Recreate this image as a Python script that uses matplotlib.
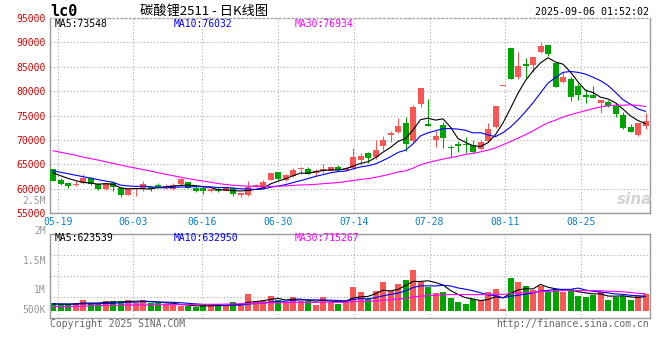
import numpy as np
import pandas as pd
import matplotlib
matplotlib.use("Agg")
import matplotlib.pyplot as plt

# ---------------- data ----------------
opens = [64000, 61890, 61270, 60870, 61210, 62230, 61070, 59910, 61210, 60180,
         58680, 60000, 60180, 60460, 60870, 60120, 60000, 60930, 61480, 60250,
         60250, 59640, 60050, 59640, 60120, 58680, 58750, 60500, 60250, 61820,
         63390, 61820, 62640, 64000, 64090, 63200, 63740, 63740, 64560, 63940,
         64220, 65920, 67350, 66530, 68850, 71100, 71720, 73520, 69700, 77440,
         73250, 70050, 73090, 68590, 69130, 69270, 69000, 68180, 69820, 72680,
         81000, 88780, 82840, 85570, 85360, 87960, 89460, 85840, 81950, 82430,
         81060, 79290, 79220, 77650, 77860, 76970, 75130, 72740, 71040, 72890]
highs = [64100, 62230, 61270, 61550, 63050, 62370, 61270, 61270, 61270, 60320,
         60050, 60250, 61680, 60590, 61280, 61080, 61300, 62160, 61480, 60800,
         60600, 60050, 60460, 60250, 60460, 59230, 61690, 60900, 61820, 63250,
         63520, 62980, 64300, 64550, 64550, 64000, 65000, 64560, 64900, 64550,
         68450, 67400, 67630, 70010, 70870, 71900, 74580, 74790, 77200, 80590,
         78470, 71800, 73640, 69000, 69800, 70630, 69950, 69950, 73570, 77050,
         81000, 88780, 87960, 86730, 86930, 90140, 89460, 85900, 83930, 82970,
         81610, 80380, 81060, 78200, 78200, 77520, 75810, 73280, 73430, 75620]
lows = [61700, 60870, 60180, 60530, 61000, 60730, 59770, 59700, 59500, 58270,
        58680, 58500, 59500, 59640, 60120, 59980, 59800, 60800, 60120, 59300,
        58880, 59430, 59430, 59500, 58540, 58270, 58610, 60400, 60120, 61820,
        61820, 61610, 62500, 63050, 63050, 62640, 63200, 63700, 63870, 63700,
        64080, 64900, 65380, 66150, 67970, 69680, 71440, 67830, 69330, 76660,
        72900, 68470, 68320, 66540, 67500, 67430, 67360, 67970, 69680, 72540,
        81000, 82430, 82430, 82770, 84000, 87750, 87280, 80930, 81610, 78060,
        78200, 77650, 78680, 75610, 76840, 74790, 72190, 71720, 70830, 72340]
closes = [61700, 61070, 60660, 61000, 62230, 61000, 59910, 61140, 60390, 58680,
          59910, 60200, 61070, 59980, 60250, 60590, 60850, 61960, 60250, 59640,
          59640, 59910, 59640, 60180, 58890, 59230, 60460, 60750, 61410, 63250,
          62030, 62840, 63870, 64150, 63060, 63740, 64010, 64560, 63870, 64350,
          66500, 66770, 66260, 68030, 70010, 71380, 72880, 69220, 76760, 80590,
          72950, 70860, 70500, 68320, 68860, 69000, 67500, 69680, 72270, 77050,
          81000, 82430, 85160, 85230, 86930, 89250, 87550, 80930, 82970, 78880,
          79220, 78880, 78680, 78200, 77040, 75330, 72400, 71720, 73430, 73840]
volumes = [329000, 286000, 286000, 329000, 472000, 329000, 286000, 429000, 429000, 429000,
           472000, 329000, 472000, 329000, 329000, 286000, 243000, 214000, 214000, 157000,
           243000, 286000, 286000, 214000, 386000, 243000, 729000, 429000, 429000, 643000,
           472000, 386000, 600000, 429000, 429000, 257000, 600000, 400000, 300000, 472000,
           1029000, 829000, 500000, 872000, 1243000, 857000, 1157000, 1329000, 1758000, 1229000,
           1015000, 772000, 815000, 572000, 386000, 300000, 500000, 472000, 815000, 943000,
           100000, 1415000, 1243000, 1072000, 900000, 1072000, 815000, 900000, 815000, 943000,
           650000, 580000, 690000, 810000, 480000, 620000, 660000, 460000, 660000, 720000]

# moving-average values for the first bars (their windows start before the chart)
ma5_head = [63300, 62700, 62150, 61700]
ma10_head = [63700, 63400, 63100, 62800, 62500, 62200, 61900, 61600, 61350]
ma30_head = [67800, 67500, 67200, 66900, 66500, 66200, 65900, 65550, 65200, 64900,
             64550, 64250, 63950, 63650, 63300, 63000, 62700, 62400, 62100, 61850,
             61600, 61350, 61100, 60900, 60750, 60650, 60550, 60500, 60500]
vma5_head = [300000, 300000, 290000, 300000]
vma10_head = [300000, 300000, 300000, 300000, 305000, 310000, 315000, 320000, 325000]
vma30_head = [190000, 190000, 190000, 195000, 200000, 230000, 235000, 240000, 245000, 250000,
              255000, 258000, 260000, 262000, 265000, 268000, 270000, 272000, 275000, 278000,
              282000, 286000, 290000, 295000, 300000, 310000, 320000, 330000, 340000]

tick_dates = ['05-19', '06-03', '06-16', '06-30', '07-14', '07-28', '08-11', '08-25']
price_ticks = [55000, 60000, 65000, 70000, 75000, 80000, 85000, 90000, 95000]
vol_labels = ['2.5M', '2M', '1.5M', '1M', '500K']

ma_price_text = ['MA5:73548', 'MA10:76032', 'MA30:76934']
ma_vol_text = ['MA5:623539', 'MA10:632950', 'MA30:715267']

dates = [d.strftime('%m-%d') for d in pd.bdate_range('2025-05-16', '2025-09-05')
         if d.strftime('%m-%d') != '06-02']

# ---------------- helpers ----------------
def rolling(values, n, head):
    s = pd.Series(values, dtype=float).rolling(n).mean().to_numpy()
    s[:n - 1] = head
    return s

o = np.array(opens, float); c = np.array(closes, float)
hi = np.array(highs, float); lo = np.array(lows, float)
v = np.array(volumes, float)
ma5 = rolling(c, 5, ma5_head); ma10 = rolling(c, 10, ma10_head); ma30 = rolling(c, 30, ma30_head)
vma5 = rolling(v, 5, vma5_head); vma10 = rolling(v, 10, vma10_head); vma30 = rolling(v, 30, vma30_head)

RED = '#f95656'
GREEN = '#00a400'
GRIDC = '#aaaaaa'
SPINE = '#999999'
MONO = 'DejaVu Sans Mono'

W, H = 660, 360
fig = plt.figure(figsize=(6.6, 3.6), dpi=100)
fig.patch.set_facecolor('white')

def fx(px):
    return px / W

def fy(py):
    return 1 - py / H

L, R = 50, 650
P_TOP, P_BOT = 17.9, 213.3
V_TOP, V_BOT, V_BASE = 234.3, 317.7, 311.0
VPP = 42870.0  # volume per pixel

axp = fig.add_axes([fx(L), fy(P_BOT), (R - L) / W, (P_BOT - P_TOP) / H])
axv = fig.add_axes([fx(L), fy(V_BOT), (R - L) / W, (V_BOT - V_TOP) / H])

n = len(closes)
assert len(dates) == n
x = np.arange(n) + 0.4
up = c >= o
cols = np.where(up, RED, GREEN)

tick_idx = [dates.index(d) for d in tick_dates]
tick_pos = [i * 7.59 / 7.5 for i in tick_idx]

for ax in (axp, axv):
    ax.set_xlim(0, n)
    ax.set_xticks(tick_pos)
    ax.grid(True, color=GRIDC, linestyle=(0, (1, 2)), linewidth=0.8, zorder=0)
    ax.set_axisbelow(True)
    for s in ('left', 'right', 'bottom', 'top'):
        ax.spines[s].set_color(SPINE)
        ax.spines[s].set_linewidth(1.0)
    ax.tick_params(length=0)

# ---- price panel ----
axp.spines['top'].set_linestyle((0, (1, 2)))
axp.spines['top'].set_color(GRIDC)
axp.vlines(x, lo, hi, colors=cols, linewidth=0.75, zorder=3)
axp.bar(x, np.maximum(np.abs(c - o), 200), bottom=np.minimum(o, c), width=0.8,
        color=cols, linewidth=0, zorder=4)
axp.plot(x, ma5, color='black', lw=0.8, zorder=5)
axp.plot(x, ma10, color='#0000ff', lw=0.8, zorder=5)
axp.plot(x, ma30, color='#ff00ff', lw=0.8, zorder=5)
axp.set_ylim(55000, 95000)
axp.set_yticks(price_ticks)
axp.set_yticklabels([str(t) for t in price_ticks], family=MONO, fontsize=7, color='#e00000')
axp.set_xticklabels(tick_dates, family=MONO, fontsize=7, color='#0a7fd0')
axp.tick_params(axis='y', pad=3)
axp.tick_params(axis='x', pad=3)

# ---- volume panel ----
axv.bar(x, v, width=0.8, color=cols, linewidth=0, zorder=2)
axv.plot(x, vma5, color='black', lw=0.8, zorder=5)
axv.plot(x, vma10, color='#0000ff', lw=0.8, zorder=5)
axv.plot(x, vma30, color='#ff00ff', lw=0.8, zorder=5)
vlo = -(V_BOT - V_BASE) * VPP
vhi = (V_BASE - V_TOP) * VPP
axv.set_ylim(vlo, vhi)
axv.set_yticks(np.linspace(vlo, vhi, 5)[1:-1])
axv.set_yticklabels([])
axv.set_xticklabels([])

# volume axis labels (positioned like the reference)
for lab, py in zip(vol_labels, [201, 231, 261, 290.3, 310]):
    fig.text(fx(46), fy(py), lab, ha='right', va='center', family=MONO,
             fontsize=7, color='#999999')

# ---- header texts ----
for txt, px, col in zip(ma_price_text, [55, 174, 295], ['black', '#0000ff', '#ff00ff']):
    fig.text(fx(px), fy(24), txt, ha='left', va='center', family=MONO, fontsize=7, color=col)
for txt, px, col in zip(ma_vol_text, [55, 174, 295], ['black', '#0000ff', '#ff00ff']):
    fig.text(fx(px), fy(238), txt, ha='left', va='center', family=MONO, fontsize=7, color=col)

fig.text(fx(50), fy(11.5), 'lc0', ha='left', va='center', family=MONO,
         fontsize=11, fontweight='bold', color='black')
fig.text(fx(140), fy(11.5), '碳酸锂2511 - 日K线图', ha='left', va='center',
         family=['Noto Sans CJK SC', 'DejaVu Sans'], fontsize=9.5, color='black')
fig.text(fx(649), fy(12), '2025-09-06 01:52:02', ha='right', va='center',
         family=MONO, fontsize=7.2, color='black')

fig.text(fx(50), fy(324), 'Copyright 2025 SINA.COM', ha='left', va='center',
         family=MONO, fontsize=7, color='#666666')
fig.text(fx(649), fy(324), 'http://finance.sina.com.cn', ha='right', va='center',
         family=MONO, fontsize=7, color='#666666')

fig.text(fx(635), fy(200), 'sina', ha='center', va='center', fontsize=11,
         fontweight='bold', style='italic', color='#d4d4d4')

fig.savefig('out.png', dpi=100, facecolor='white')
